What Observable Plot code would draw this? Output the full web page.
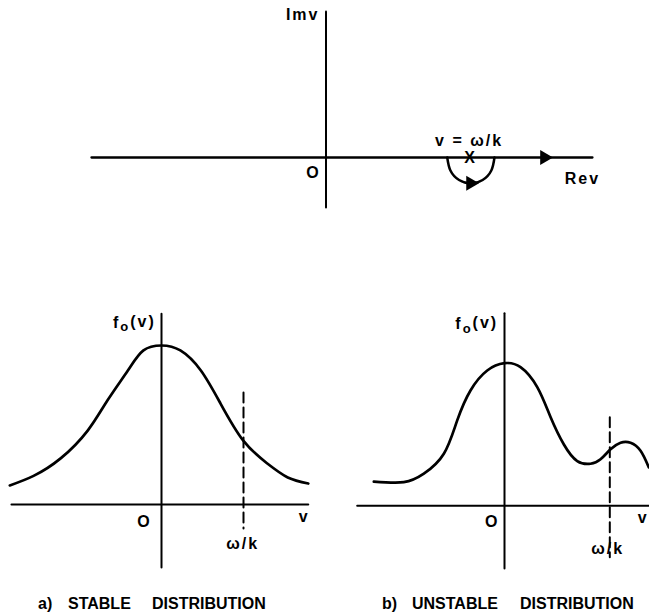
<!DOCTYPE html>
<html><head><meta charset="utf-8">
<script src="https://cdn.jsdelivr.net/npm/d3@7"></script>
<script src="https://cdn.jsdelivr.net/npm/@observablehq/plot@0.6"></script>
<style>
body{margin:0;background:#fff;}
#fig{position:relative;width:649px;height:616px;overflow:hidden;background:#fff;font-family:"Liberation Sans",Arial,sans-serif;color:#000;}
.panel{position:absolute;}
.panel text{letter-spacing:2px;}
.cap{position:absolute;font-weight:bold;font-size:16px;white-space:pre;line-height:1;}
</style></head><body><div id="fig"></div>
<script>
// ---------- top panel: complex v-plane (units: omega/k = 1) ----------
const reAxis = [{re: -1.623, im: 0}, {re: 1.844, im: 0}];
const imAxis = [{re: 0, im: 1.01}, {re: 0, im: -0.346}];
const contourRe = [0.839, 0.861, 0.921, 1.0025, 1.084, 1.144, 1.166];
const contourIm = [0, -0.09, -0.156, -0.18, -0.156, -0.09, 0];
const arrowsTop = [{re: 1.512, im: 0}, {re: 1.0, im: -0.178}];
const topLabels = [
  {re: -0.045, im: 0.99, text: "Imv", anchor: "end"},
  {re: -0.0865, im: -0.104, text: "O", anchor: "middle"},
  {re: 0.99, im: 0.115, text: "v = ω/k", anchor: "middle"},
  {re: 1.0, im: 0.0, text: "X", anchor: "middle"},
  {re: 1.775, im: -0.145, text: "Rev", anchor: "middle"}
];

// ---------- panel a: stable distribution ----------
const aV = [-1.85, -1.56, -1.23, -0.90, -0.66, -0.41, -0.22, 0, 0.23, 0.48, 0.72, 1.0, 1.29, 1.54, 1.79];
const aF = [0.12, 0.18, 0.29, 0.465, 0.654, 0.843, 0.969, 1.0, 0.969, 0.843, 0.635, 0.40, 0.258, 0.17, 0.132];
const aHAxis = [-1.83, 1.79];
const aVAxis = [1.20, -0.396];
const aDash = [0.704, -0.151];
const aLabels = [
  {v: -0.07, f: 1.145, text: "f₀(v)", anchor: "end"},
  {v: -0.207, f: -0.111, text: "O", anchor: "middle"},
  {v: 1.74, f: -0.08, text: "v", anchor: "middle"},
  {v: 0.99, f: -0.245, text: "ω/k", anchor: "middle"}
];

// ---------- panel b: unstable distribution ----------
const bV = [-1.241, -0.956, -0.766, -0.576, -0.449, -0.323, -0.164, 0, 0.152, 0.311, 0.437, 0.564, 0.691, 0.817, 0.912, 1.007, 1.102, 1.197, 1.292, 1.370];
const bF = [0.170, 0.166, 0.225, 0.365, 0.599, 0.809, 0.949, 1.0, 0.972, 0.832, 0.623, 0.430, 0.314, 0.295, 0.326, 0.396, 0.442, 0.442, 0.386, 0.270];
const bHAxis = [-1.399, 1.40];
const bVAxis = [1.351, -0.44];
const bDash = [0.621, -0.36];
const bLabels = [
  {v: -0.06, f: 1.278, text: "f₀(v)", anchor: "end"},
  {v: -0.117, f: -0.115, text: "O", anchor: "middle"},
  {v: 1.37, f: -0.082, text: "v", anchor: "end"},
  {v: 0.98, f: -0.30, text: "ω/k", anchor: "middle"}
];
const omegaK = 1;
const captions = ["a) STABLE DISTRIBUTION", "b) UNSTABLE DISTRIBUTION"];

const FONT = '"Liberation Sans", Arial, sans-serif';
const fig = document.getElementById("fig");
function place(el, left, top) {
  el.classList.add("panel");
  el.style.left = left + "px";
  el.style.top = top + "px";
  fig.appendChild(el);
  // subscript for f0(v)
  d3.select(el).selectAll("text").filter(function () { return this.textContent.includes("₀"); }).each(function () {
    const t = d3.select(this);
    const parts = this.textContent.split("₀");
    t.text(null);
    t.append("tspan").text(parts[0]);
    t.append("tspan").attr("dy", "0.3em").attr("font-size", 13).text("o");
    t.append("tspan").attr("dy", "-0.3em").text(parts[1]);
  });
}
function textMarks(labels, xk, yk) {
  return ["start", "middle", "end"].map(a => Plot.text(labels.filter(d => d.anchor === a), {
    x: xk, y: yk, text: "text", textAnchor: a, fontSize: 16, fontWeight: "bold", fill: "#000"
  }));
}

// top panel: 649 x 230, 144.5 px per unit, origin at (325.5, 157)
const topPlot = Plot.plot({
  width: 649, height: 230, margin: 0,
  style: {fontFamily: FONT, background: "transparent"},
  x: {domain: [-325.5 / 144.5, 323.5 / 144.5], axis: null},
  y: {domain: [-73 / 144.5, 157 / 144.5], axis: null},
  marks: [
    Plot.line(reAxis, {x: "re", y: "im", stroke: "#000", strokeWidth: 2.3}),
    Plot.line(imAxis, {x: "re", y: "im", stroke: "#000", strokeWidth: 2}),
    Plot.line(contourRe.map((r, i) => ({re: r, im: contourIm[i]})), {x: "re", y: "im", curve: "natural", stroke: "#000", strokeWidth: 2.5}),
    Plot.dot(arrowsTop, {x: "re", y: "im", symbol: "triangle", rotate: 90, r: 5.5, fill: "#000", stroke: "none"}),
    ...textMarks(topLabels, "re", "im")
  ]
});
place(topPlot, 0, 0);

function distPlot(V, F, hAxis, vAxis, dash, labels, pxPerV, originX, pxPerF, originY, left, width) {
  const top = 290, height = 290;
  return {plot: Plot.plot({
    width, height, margin: 0,
    style: {fontFamily: FONT, background: "transparent"},
    x: {domain: [(left - originX) / pxPerV, (left + width - originX) / pxPerV], axis: null},
    y: {domain: [(originY - (top + height)) / pxPerF, (originY - top) / pxPerF], axis: null},
    marks: [
      Plot.line(hAxis.map(v => ({v, f: 0})), {x: "v", y: "f", stroke: "#000", strokeWidth: 2}),
      Plot.line(vAxis.map(f => ({v: 0, f})), {x: "v", y: "f", stroke: "#000", strokeWidth: 2}),
      Plot.line(dash.map(f => ({v: omegaK, f})), {x: "v", y: "f", stroke: "#000", strokeWidth: 2, strokeDasharray: "10,5"}),
      Plot.line(V.map((v, i) => ({v, f: F[i]})), {x: "v", y: "f", curve: "natural", stroke: "#000", strokeWidth: 2.7}),
      ...textMarks(labels, "v", "f")
    ]
  }), top};
}

const a = distPlot(aV, aF, aHAxis, aVAxis, aDash, aLabels, 82, 161, 159, 504, 0, 325);
place(a.plot, 0, a.top);
const b = distPlot(bV, bF, bHAxis, bVAxis, bDash, bLabels, 105.3, 504, 142.6, 505.3, 325, 324);
place(b.plot, 325, b.top);

// captions: each word placed at its position in the reference
const capWordX = [[38, 68, 152], [382, 412, 520]];
captions.forEach((c, ci) => {
  c.split(" ").forEach((w, wi) => {
    const d = document.createElement("div");
    d.className = "cap";
    d.textContent = w;
    d.style.left = capWordX[ci][wi] + "px";
    d.style.top = "596px";
    fig.appendChild(d);
  });
});
</script></body></html>
